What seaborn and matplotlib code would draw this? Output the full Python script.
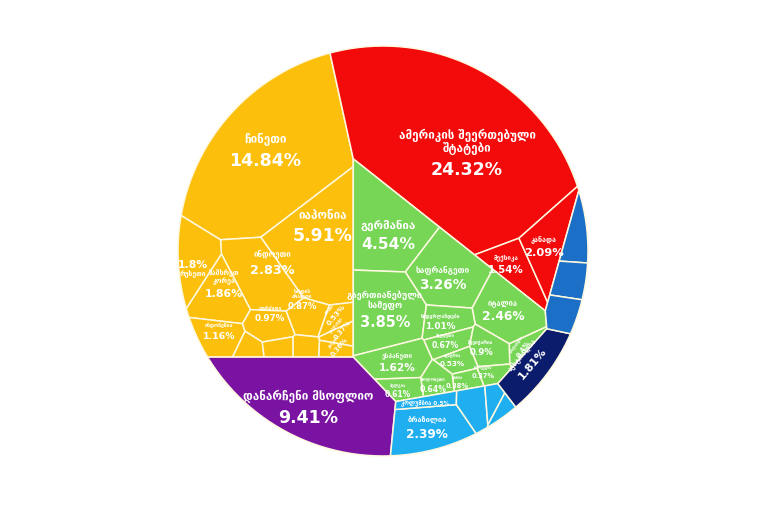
import numpy as np
import matplotlib
matplotlib.use("Agg")
import matplotlib.pyplot as plt
from matplotlib.patches import Polygon
from matplotlib.path import Path
import seaborn as sns

# --- VISUAL CONFIGURATION ---
sns.set_theme(style="white")
plt.rcParams['font.family'] = ['DejaVu Sans']

# --- DATA: share of world GDP (%) ---
asia_names = ["ჩინეთი", "იაპონია", "ინდოეთი", "სამხრეთ\nკორეა", "რუსეთი", "ინდონეზია",
              "თურქეთი", "საუდის\nარაბეთი", "ირანი", "ტაილანდი", "ტაივანი",
              "მალაიზია", "ისრაელი", "ფილიპინები"]
asia_values = [14.84, 5.91, 2.83, 1.86, 1.8, 1.16, 0.97, 0.87, 0.53, 0.37, 0.36, 0.4, 0.42, 0.4]

namerica_names = ["ამერიკის შეერთებული\nშტატები", "მექსიკა", "კანადა"]
namerica_values = [24.32, 1.54, 2.09]

europe_names = ["გერმანია", "საფრანგეთი", "გაერთიანებული\nსამეფო", "იტალია", "ნიდერლანდები",
                "შვედეთი", "შვეიცარია", "ესპანეთი", "ავსტრია", "დანია", "ნორვეგია",
                "პოლონეთი", "ბელგია", "ირლანდია"]
europe_values = [4.54, 3.26, 3.85, 2.46, 1.01, 0.67, 0.9, 1.62, 0.53, 0.38, 0.37, 0.64, 0.61, 0.4]

rest_names = ["დანარჩენი მსოფლიო"]
rest_values = [9.41]

samerica_names = ["ბრაზილია", "კოლუმბია", "არგენტინა", "ჩილე", "პერუ"]
samerica_values = [2.39, 0.5, 0.79, 0.34, 0.26]

oceania_names = ["ავსტრალია"]
oceania_values = [1.81]

africa_names = ["ნიგერია", "სამხრეთ აფრიკა", "ეგვიპტე"]
africa_values = [0.9, 0.85, 0.8]

# cells drawn without a label in the original
unlabeled = {"მალაიზია", "ისრაელი", "ფილიპინები", "არგენტინა", "ჩილე", "პერუ",
             "ნიგერია", "სამხრეთ აფრიკა", "ეგვიპტე"}

# --- LAYOUT (pixel space, y down) ---
CENTER = (383, 251)
RADIUS = 205

groups = [
    # names, values, colour, voronoi seed of the group, seeds of the cells
    (asia_names, asia_values, "#FCBF0C", (260, 230),
     [(265, 151), (323, 227), (272, 263), (224, 288), (193, 268), (219, 331), (270, 314),
      (302, 302), (333, 313), (340, 328), (337, 345), (250, 346), (298, 343), (275, 343)]),
    (namerica_names, namerica_values, "#F30A0A", (478, 182),
     [(467, 160), (506, 264), (544, 247)]),
    (europe_names, europe_values, "#77D655", (440, 230),
     [(388, 236), (443, 278), (385, 315), (503, 310), (440, 322), (445, 341), (481, 348),
      (397, 362), (452, 360), (457, 382), (483, 372), (433, 385), (398, 390), (520, 347)]),
    (rest_names, rest_values, "#7B13A2", (260, 402), [(308, 408)]),
    (samerica_names, samerica_values, "#1FAEEF", (474, 423),
     [(427, 428), (425, 403), (462, 404), (488, 402), (507, 412)]),
    (oceania_names, oceania_values, "#0B1C6C", (572, 348), [(528, 360)]),
    (africa_names, africa_values, "#1B6FC6", (600, 216),
     [(575, 228), (572, 272), (566, 312)]),
]

rotated = {"ავსტრალია": 50, "ირლანდია": 55, "ირანი": 50, "ტაილანდი": 50, "ტაივანი": 50}
single_line = {"კოლუმბია"}
pct_on_top = {"რუსეთი"}


# --- POWER DIAGRAM HELPERS ---
def clip(poly, a, b, c):
    out = []
    n = len(poly)
    for k in range(n):
        p, q = poly[k], poly[(k + 1) % n]
        fp = a * p[0] + b * p[1] - c
        fq = a * q[0] + b * q[1] - c
        if fp <= 0:
            out.append(p)
        if fp * fq < 0:
            t = fp / (fp - fq)
            out.append((p[0] + t * (q[0] - p[0]), p[1] + t * (q[1] - p[1])))
    return out


def power_cell(region, sites, w, i):
    poly = list(region)
    xi, yi = sites[i]
    for j, (xj, yj) in enumerate(sites):
        if j == i or not poly:
            continue
        a = 2 * (xj - xi)
        b = 2 * (yj - yi)
        c = xj * xj + yj * yj - xi * xi - yi * yi - w[j] + w[i]
        poly = clip(poly, a, b, c)
    return poly


def area(poly):
    if len(poly) < 3:
        return 0.0
    p = np.array(poly)
    x, y = p[:, 0], p[:, 1]
    return 0.5 * abs(np.dot(x, np.roll(y, -1)) - np.dot(y, np.roll(x, -1)))


def centroid(poly):
    p = np.array(poly)
    x, y = p[:, 0], p[:, 1]
    x1, y1 = np.roll(x, -1), np.roll(y, -1)
    cr = x * y1 - x1 * y
    a = cr.sum() / 2
    return (x + x1).dot(cr) / (6 * a), (y + y1).dot(cr) / (6 * a)


def fit_cells(region, sites, values, iters=400):
    n = len(sites)
    if n == 1:
        return [list(region)]
    targets = np.array(values) / sum(values) * area(region)
    w = np.zeros(n)
    for _ in range(iters):
        areas = np.array([area(power_cell(region, sites, w, i)) for i in range(n)])
        err = targets - areas
        if np.max(np.abs(err) / targets) < 0.002:
            break
        grad = np.empty(n)
        for i in range(n):
            w2 = w.copy()
            w2[i] += 20.0
            grad[i] = (area(power_cell(region, sites, w2, i)) - areas[i]) / 20.0
        step = np.where(grad > 1e-3, err / np.maximum(grad, 1e-3), err)
        w += 0.5 * step
    return [power_cell(region, sites, w, i) for i in range(n)]


# --- BUILD THE TREEMAP ---
ang = np.linspace(0, 2 * np.pi, 160, endpoint=False)
circle = [(CENTER[0] + RADIUS * np.cos(t), CENTER[1] + RADIUS * np.sin(t)) for t in ang]

group_cells = fit_cells(circle, [g[3] for g in groups], [sum(g[1]) for g in groups])

fig = plt.figure(figsize=(7.6, 5.05), dpi=100)
ax = fig.add_axes([0, 0, 1, 1])
ax.set_xlim(0, 760)
ax.set_ylim(505, 0)
ax.axis('off')

labels = []
for (names, values, colour, _, seeds), region in zip(groups, group_cells):
    cells = fit_cells(region, seeds, values)
    for name, value, cell, seed in zip(names, values, cells, seeds):
        if len(cell) < 3:
            continue
        ax.add_patch(Polygon(cell, closed=True, facecolor=colour,
                             edgecolor="#FFF8E0", linewidth=1.1, joinstyle='round'))
        if name not in unlabeled:
            # label on the seed when it sits inside its cell, else on the centroid
            pos = seed if Path(cell).contains_point(seed) else centroid(cell)
            labels.append((pos, name, value))

# --- LABELS ---
px = 100 / 72
for (cx, cy), name, value in labels:
    fs = min(12.5, 2.2 + 4.2 * np.sqrt(value))
    if value >= 4:
        fn = min(8.4, fs * 0.74)
    elif value >= 1.5:
        fn = fs * 0.62
    else:
        fn = fs * 0.55
    pct = f"{value:g}%"
    rot = rotated.get(name, 0)
    if name in single_line:
        ax.text(cx, cy, f"{name} {pct}", color="white", fontsize=fs * 0.8, fontweight='bold',
                ha='center', va='center', rotation=rot)
        continue
    th = np.radians(rot)
    up = np.array([-np.sin(th), -np.cos(th)])
    lines = name.count("\n") + 1
    name_off = (0.45 * fs + 0.3 * fn + 0.6 * fn * (lines - 1)) * px
    pct_off = 0.55 * fs * px
    if name in pct_on_top:
        name_off, pct_off = -0.55 * fs * px, -0.3 * fs * px
    nx, ny = np.array([cx, cy]) + up * name_off
    ax.text(nx, ny, name, color="white", fontsize=fn, fontweight='bold',
            ha='center', va='center', rotation=rot, linespacing=1.0)
    qx, qy = np.array([cx, cy]) - up * pct_off
    ax.text(qx, qy, pct, color="white", fontsize=fs, fontweight='bold',
            ha='center', va='center', rotation=rot)

fig.savefig("out.png", dpi=100)
